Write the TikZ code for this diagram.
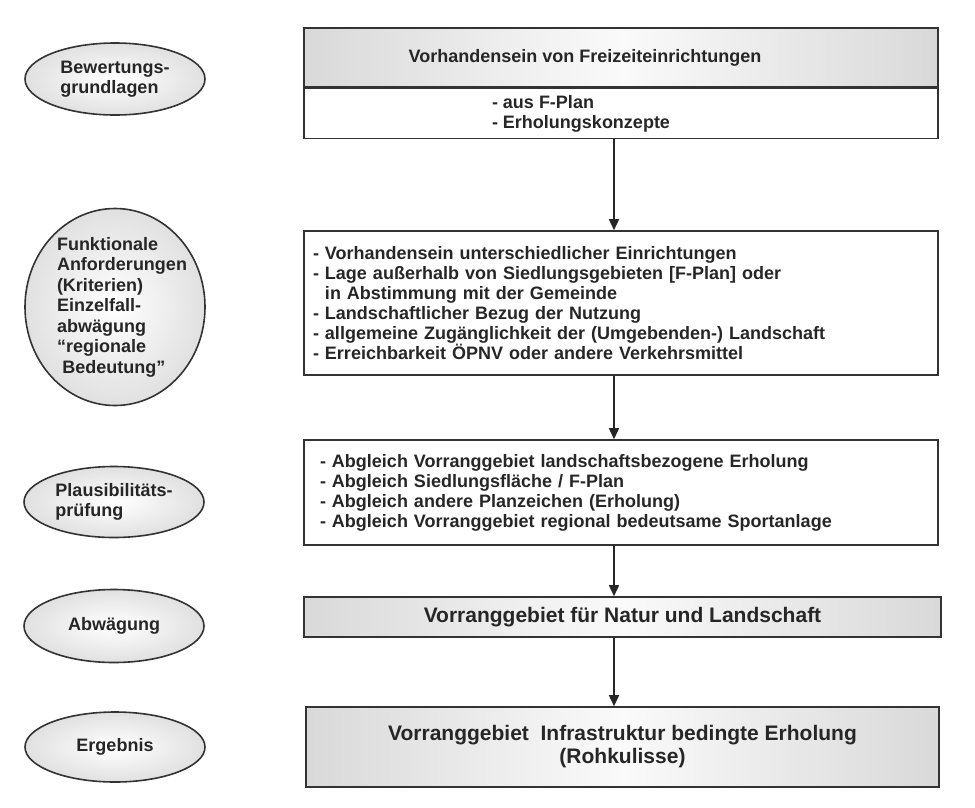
\documentclass[tikz,border=0pt]{standalone}
\usepackage{fontspec}
\setmainfont{Liberation Sans}
\usetikzlibrary{shapes.geometric,arrows.meta}
\tikzset{
	phase/.style={ellipse,draw=black!80,line width=1.6pt,inner color=white,outer color=gray!24,minimum width=180pt,inner sep=0pt,align=left,text=black!85,font=\fontsize{18}{20}\selectfont\bfseries},
	stepbox/.style={rectangle,draw=black!80,line width=1.6pt,minimum width=634pt,inner sep=0pt},
	headbox/.style={stepbox,left color=gray!30,right color=gray!30,middle color=gray!4},
	itemtext/.style={text=black!85,font=\fontsize{18}{20}\selectfont\bfseries,align=left},
	flow/.style={-{Triangle[length=11pt,width=10pt]},line width=1.6pt,draw=black!85}
}
\begin{document}
\begin{tikzpicture}[x=1pt,y=-1pt]
	\useasboundingbox (0,0) rectangle (975,807);
	\node[phase,minimum height=72pt] (bew) at (115,79) {Bewertungs-\\grundlagen};
	\node[phase,minimum height=197pt] (fun) at (115,307) {};
	\node[itemtext,font=\fontsize{18}{20.5}\selectfont\bfseries] (funtxt) at ([xshift=7pt]fun.center) {Funktionale\\Anforderungen\\(Kriterien)\\Einzelfall-\\abwägung\\“regionale\\\hspace*{0.3em}Bedeutung”};
	\node[phase,minimum height=71pt] (pla) at (114,502) {Plausibilitäts-\\prüfung};
	\node[phase,minimum height=73pt] (abw) at (114,626) {Abwägung};
	\node[phase,minimum height=70pt] (erg) at (115,747) {Ergebnis};

	\node[headbox,minimum height=59pt] (head) at (621,57.5) {};
	\node[itemtext] (headtxt) at ([xshift=-36pt]head.center) {Vorhandensein von Freizeiteinrichtungen};
	\node[stepbox,minimum height=50pt,anchor=north] (src) at (head.south) {};
	\node[itemtext] (srctxt) at ([xshift=-40pt]src.center) {- aus F-Plan\\- Erholungskonzepte};
	\node[stepbox,itemtext,minimum height=144pt,text width=616pt,inner xsep=9pt] (crit) at (621,303) {- Vorhandensein unterschiedlicher Einrichtungen\\- Lage außerhalb von Siedlungsgebieten [F-Plan] oder\\\phantom{- }in Abstimmung mit der Gemeinde\\- Landschaftlicher Bezug der Nutzung\\- allgemeine Zugänglichkeit der (Umgebenden-) Landschaft\\- Erreichbarkeit ÖPNV oder andere Verkehrsmittel};
	\node[stepbox,itemtext,minimum height=105pt,text width=602pt,inner xsep=16pt] (chk) at (621,492.5) {- Abgleich Vorranggebiet landschaftsbezogene Erholung\\- Abgleich Siedlungsfläche / F-Plan\\- Abgleich andere Planzeichen (Erholung)\\- Abgleich Vorranggebiet regional bedeutsame Sportanlage};
	\node[headbox,minimum width=637pt,minimum height=40pt,text=black!85,font=\fontsize{21}{23}\selectfont\bfseries] (vnl) at (622.5,617) {Vorranggebiet für Natur und Landschaft};
	\node[headbox,minimum width=633pt,minimum height=80pt,align=center,text=black!85,font=\fontsize{21}{23}\selectfont\bfseries] (vie) at (622.5,747) {Vorranggebiet\ \ Infrastruktur bedingte Erholung\\(Rohkulisse)};

	\coordinate (axis) at (614,0);
	\foreach \a/\b in {src/crit,crit/chk,chk/vnl,vnl/vie}
		\draw[flow] (\a.south -| axis) -- (\b.north -| axis);
\end{tikzpicture}
\end{document}
